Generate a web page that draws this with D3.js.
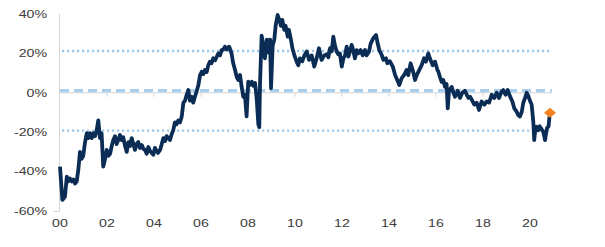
<!DOCTYPE html>
<html>
<head>
<meta charset="utf-8">
<script src="https://cdn.jsdelivr.net/npm/d3@7"></script>
<style>
  body { margin: 0; background: #fff; }
  text { font-family: "Liberation Sans", Arial, sans-serif; fill: #3b3b3b; }
</style>
</head>
<body>
<script>
// ---- data (decimal year, % value) ----
var yTicks = [40, 20, 0, -20, -40, -60];
var xTickYears = [2000, 2002, 2004, 2006, 2008, 2010, 2012, 2014, 2016, 2018, 2020];
var xTickLabels = ["00", "02", "04", "06", "08", "10", "12", "14", "16", "18", "20"];
var meanLevel = 1.1;
var bandLevels = [21.2, -19.2];
var latestPoint = [2020.85, -10.1];

var series = [
  [2000.00,-37.5],[2000.10,-54.4],[2000.21,-52.7],[2000.29,-42.6],[2000.35,-45],[2000.42,-43.5],
  [2000.50,-45],[2000.57,-44],[2000.64,-46],[2000.71,-45],[2000.78,-39],[2000.85,-30],
  [2000.92,-33.5],[2000.99,-32],[2001.06,-25.5],[2001.14,-20.5],[2001.20,-23],[2001.28,-20.5],
  [2001.35,-23],[2001.42,-20.5],[2001.49,-22],[2001.56,-19],[2001.63,-14],[2001.70,-23],
  [2001.77,-20.5],[2001.84,-37.5],[2001.91,-34],[2001.99,-29],[2002.06,-32],[2002.13,-31],
  [2002.20,-27],[2002.27,-24],[2002.34,-22],[2002.41,-26],[2002.48,-24],[2002.55,-21.4],
  [2002.62,-24],[2002.69,-22.5],[2002.77,-27],[2002.84,-30],[2002.91,-25],[2002.98,-27],
  [2003.05,-23],[2003.12,-26],[2003.19,-29],[2003.26,-26],[2003.33,-25],[2003.40,-28],
  [2003.48,-26.5],[2003.55,-28.5],[2003.62,-29],[2003.69,-31],[2003.76,-27.5],[2003.83,-29.5],
  [2003.90,-30.5],[2003.97,-31.5],[2004.04,-28],[2004.11,-29.5],[2004.17,-30.5],[2004.26,-29],
  [2004.33,-26],[2004.40,-23],[2004.47,-24.5],[2004.54,-22],[2004.61,-23],[2004.68,-24],
  [2004.75,-21],[2004.82,-19],[2004.89,-15],[2004.96,-16],[2005.03,-14],[2005.11,-15],
  [2005.18,-12],[2005.25,-5],[2005.32,-4],[2005.39,-1],[2005.46,1.4],[2005.53,-4],
  [2005.60,-2],[2005.67,-5],[2005.74,-2],[2005.82,1],[2005.89,4],[2005.96,9],
  [2006.03,10.7],[2006.10,9.5],[2006.17,11.6],[2006.24,10.5],[2006.31,14],[2006.38,15.8],
  [2006.45,15],[2006.52,17.5],[2006.60,16.5],[2006.67,18.3],[2006.74,20],[2006.81,19],
  [2006.88,21.7],[2006.95,22],[2007.02,23.4],[2007.09,22],[2007.15,23],[2007.20,23.4],
  [2007.30,20],[2007.37,15],[2007.45,11.6],[2007.52,8],[2007.59,6.5],[2007.66,9],
  [2007.73,3],[2007.80,-2],[2007.87,-1],[2007.94,-12],[2008.01,5.6],[2008.09,4],
  [2008.16,5.6],[2008.23,3.5],[2008.30,5],[2008.37,-3],[2008.44,-16],[2008.48,-17.5],
  [2008.51,4],[2008.58,29],[2008.65,24],[2008.72,17.5],[2008.80,27],[2008.87,20.5],
  [2008.94,27],[2008.98,2.3],[2009.05,24],[2009.12,27],[2009.18,34.4],[2009.26,39.5],
  [2009.33,37],[2009.40,34],[2009.46,37],[2009.54,32],[2009.60,34],[2009.69,28.5],
  [2009.74,32],[2009.83,26.8],[2009.89,22.6],[2009.97,19.2],[2010.07,15.8],[2010.14,14],
  [2010.21,17.5],[2010.31,16],[2010.40,19],[2010.50,21],[2010.60,16.7],[2010.71,19],
  [2010.82,13.3],[2010.92,17.5],[2011.02,22.6],[2011.13,16.7],[2011.25,19],[2011.35,19.6],
  [2011.42,18],[2011.49,22.6],[2011.56,21],[2011.63,28.5],[2011.70,24],[2011.77,21],
  [2011.84,19.6],[2011.91,20],[2011.99,13.3],[2012.06,17.5],[2012.13,19],[2012.20,23.4],
  [2012.27,18.4],[2012.34,21],[2012.41,24.3],[2012.48,21.6],[2012.55,17.5],[2012.62,21.7],
  [2012.69,20],[2012.79,21.7],[2012.88,19],[2012.98,21.7],[2013.05,19],[2013.15,21],
  [2013.22,25],[2013.33,27.7],[2013.45,29.3],[2013.52,25],[2013.59,21.6],[2013.69,19.2],
  [2013.76,16.7],[2013.87,17.5],[2013.93,15],[2014.04,16],[2014.16,13.3],[2014.26,9],
  [2014.35,6.5],[2014.44,4],[2014.54,7.4],[2014.64,9],[2014.75,11.6],[2014.82,9],
  [2014.92,15],[2015.01,11.6],[2015.11,6.5],[2015.18,9],[2015.29,11.6],[2015.39,14],
  [2015.49,17.5],[2015.57,15.8],[2015.67,20],[2015.74,17.5],[2015.86,14],[2015.96,15.8],
  [2016.06,11.6],[2016.10,10.7],[2016.17,8],[2016.24,5.6],[2016.31,6.5],[2016.38,3],
  [2016.45,4.5],[2016.50,-7.9],[2016.55,0.5],[2016.61,2],[2016.67,3],[2016.74,0],
  [2016.81,-2],[2016.87,-0.5],[2016.92,1],[2017.02,-2.6],[2017.12,0],[2017.23,1],
  [2017.31,-1],[2017.38,-2.6],[2017.45,-2],[2017.52,-3.5],[2017.63,-6],[2017.73,-5],
  [2017.83,-8.7],[2017.94,-4.4],[2018.06,-6],[2018.16,-4.4],[2018.26,-5],[2018.37,-1],
  [2018.48,-2.6],[2018.58,0],[2018.68,-2.6],[2018.79,0.6],[2018.86,1.4],[2018.96,-1],
  [2019.05,1.4],[2019.15,-1.8],[2019.25,-4.4],[2019.33,-7.9],[2019.43,-9.6],[2019.50,-11.3],
  [2019.57,-12],[2019.65,-9.6],[2019.71,-5.3],[2019.79,-2.6],[2019.86,0],[2019.93,-1.8],
  [2020.00,-4],[2020.07,-6],[2020.14,-14.7],[2020.18,-24],[2020.23,-18],[2020.28,-17.2],
  [2020.35,-19],[2020.41,-17],[2020.47,-18],[2020.57,-20],[2020.64,-24],[2020.72,-18],
  [2020.79,-17],[2020.83,-12]
];

var w = 605, h = 247;
var svg = d3.select("body").append("svg")
  .attr("width", w).attr("height", h);

var x = d3.scaleLinear().domain([2000, 2020]).range([60, 530]);
var y = d3.scaleLinear().domain([-60, 40]).range([211, 14]);
var xEnd = x(2020.93);
var stretch = 1.35;  // labels in the picture are wider than tall

// y axis line + labels
svg.append("line")
  .attr("x1", 59.5).attr("x2", 59.5).attr("y1", y(40)).attr("y2", y(-60))
  .attr("stroke", "#d4d4d4").attr("stroke-width", 1);
svg.append("line")
  .attr("x1", 54).attr("x2", 59.5).attr("y1", y(-60) + 0.5).attr("y2", y(-60) + 0.5)
  .attr("stroke", "#d4d4d4");

yTicks.forEach(function(t) {
  svg.append("text")
    .attr("transform", "translate(47," + (y(t) + 3.8) + ") scale(" + stretch + ",1)")
    .attr("text-anchor", "end")
    .style("font-size", "10.5px")
    .text(t + "%");
});

// x axis at zero with small ticks, labels at bottom
svg.append("line")
  .attr("x1", 59.5).attr("x2", xEnd).attr("y1", y(0)).attr("y2", y(0))
  .attr("stroke", "#d4d4d4");
xTickYears.forEach(function(yr, i) {
  if (i > 0) {
    svg.append("line")
      .attr("x1", x(yr)).attr("x2", x(yr)).attr("y1", y(0)).attr("y2", y(0) + 4)
      .attr("stroke", "#d4d4d4");
  }
  svg.append("text")
    .attr("transform", "translate(" + x(yr) + ",227) scale(" + stretch + ",1)")
    .attr("text-anchor", "middle")
    .style("font-size", "10.5px")
    .text(xTickLabels[i]);
});

// reference bands (dotted) and mean (dashed)
bandLevels.forEach(function(v) {
  svg.append("line")
    .attr("x1", 62).attr("x2", xEnd).attr("y1", y(v)).attr("y2", y(v))
    .attr("stroke", "#9cc8ea").attr("stroke-width", 2.4)
    .attr("stroke-dasharray", "2.2,2.8");
});
svg.append("line")
  .attr("x1", 60).attr("x2", xEnd).attr("y1", y(meanLevel)).attr("y2", y(meanLevel))
  .attr("stroke", "#a9cfec").attr("stroke-width", 3.4)
  .attr("stroke-dasharray", "9,5");

// main series
var line = d3.line()
  .x(function(d) { return x(d[0]); })
  .y(function(d) { return y(d[1]); });

svg.append("path")
  .datum(series)
  .attr("d", line)
  .attr("fill", "none")
  .attr("stroke", "#0b2d55")
  .attr("stroke-width", 3.8)
  .attr("stroke-linejoin", "round");

// latest value marker
svg.append("path")
  .attr("d", "M-6,0L0,-5L6,0L0,5Z")
  .attr("transform", "translate(" + x(latestPoint[0]) + "," + y(latestPoint[1]) + ")")
  .attr("fill", "#f5821f");
</script>
</body>
</html>
